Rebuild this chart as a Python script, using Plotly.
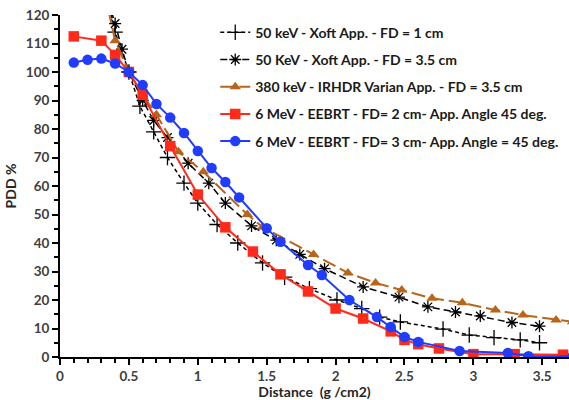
import plotly.graph_objects as go

# 50 keV - Xoft App. - FD = 1 cm
x_plus = [0.35, 0.4, 0.5, 0.58, 0.68, 0.78, 0.9, 1.0, 1.14, 1.29, 1.47, 1.63, 1.81, 2.01, 2.19, 2.32, 2.47, 2.78, 2.97, 3.15, 3.34, 3.48]
y_plus = [125, 114, 100, 88, 79, 70, 61, 54, 46.5, 40, 33, 28, 24, 20, 17, 14, 12.3, 9.8, 7.7, 6.8, 6, 5]

# 50 KeV - Xoft App. - FD = 3.5 cm
x_ast = [0.35, 0.4, 0.45, 0.5, 0.6, 0.68, 0.78, 0.93, 1.08, 1.2, 1.39, 1.57, 1.74, 1.92, 2.2, 2.46, 2.67, 2.87, 3.05, 3.28, 3.48]
y_ast = [125, 117, 108, 100, 90, 83, 77, 68, 61, 54, 46, 41, 36, 31, 24.6, 21, 17.6, 15.8, 14.4, 12.1, 10.8]

# 380 keV - IRHDR Varian App. - FD = 3.5 cm
x_ir = [0.35, 0.4, 0.5, 0.6, 0.7, 0.86, 1.04, 1.36, 1.47, 1.84, 2.09, 2.29, 2.48, 2.7, 2.92, 3.16, 3.36, 3.6, 3.72]
y_ir = [122, 111, 100, 92, 85, 72, 65, 50, 45.6, 36, 29.5, 26, 23.5, 20.6, 19, 16.5, 14.7, 13, 12.4]

# 6 MeV - EEBRT - FD= 2 cm
x_red = [0.1, 0.3, 0.4, 0.5, 0.6, 0.8, 1.0, 1.2, 1.4, 1.6, 1.8, 2.0, 2.2, 2.4, 2.5, 2.6, 2.75, 3.0, 3.3, 3.65]
y_red = [112.5, 111, 106, 100, 92, 74, 57, 45.5, 37, 29, 23, 17, 13.5, 9, 6, 4.5, 3, 1, 1, 0.8]

# 6 MeV - EEBRT - FD= 3 cm
x_blue = [0.1, 0.2, 0.3, 0.4, 0.5, 0.6, 0.7, 0.8, 0.9, 1.0, 1.1, 1.2, 1.3, 1.5, 1.6, 1.8, 1.9, 2.1, 2.3, 2.4, 2.5, 2.6, 2.9, 3.25, 3.4, 3.72]
y_blue = [103.3, 104.3, 104.7, 103, 100, 95.4, 88.8, 84, 78.6, 72.3, 66.3, 61.4, 56, 45.2, 40.4, 32.3, 28.8, 20, 14, 10.5, 7, 5.3, 2.1, 1.4, 0.3, 0.3]

names = [
    "50 keV - Xoft App. - FD = 1 cm",
    "50 KeV - Xoft App. - FD = 3.5 cm",
    "380 keV - IRHDR Varian App. - FD = 3.5 cm",
    "6 MeV - EEBRT - FD= 2 cm- App. Angle 45 deg.",
    "6 MeV - EEBRT - FD= 3 cm- App. Angle = 45 deg.",
]

RED = "#ff2a1a"
BLUE = "#1f3cff"
BROWN = "#b8651b"

fig = go.Figure()
fig.add_trace(go.Scatter(x=x_plus, y=y_plus, name=names[0], mode="lines+markers", legendgroup="a",
                         line=dict(color="black", width=1.5, dash="4px,3px"),
                         marker=dict(symbol="cross-thin", size=11, line=dict(color="black", width=1.3))))
fig.add_trace(go.Scatter(x=x_ast, y=y_ast, name=names[1], mode="lines+markers", legendgroup="b",
                         line=dict(color="black", width=1.5, dash="7px,4px"),
                         marker=dict(symbol="asterisk", size=10, line=dict(color="black", width=1.3))))
fig.add_trace(go.Scatter(x=x_ir, y=y_ir, name=names[2], mode="lines+markers", legendgroup="c",
                         line=dict(color=BROWN, width=2, dash="14px,5px"),
                         marker=dict(symbol="triangle-up", size=10, color=BROWN)))
fig.add_trace(go.Scatter(x=x_red, y=y_red, name=names[3], mode="lines+markers", legendgroup="d",
                         line=dict(color=RED, width=2),
                         marker=dict(symbol="square", size=10.5, color=RED)))
fig.add_trace(go.Scatter(x=x_blue, y=y_blue, name=names[4], mode="lines+markers", legendgroup="e",
                         line=dict(color=BLUE, width=2),
                         marker=dict(symbol="circle", size=10.5, color=BLUE)))

FONT = "Lato"
fig.update_layout(
    width=569, height=400,
    margin=dict(l=60, r=0, t=15, b=43),
    paper_bgcolor="white", plot_bgcolor="white",
    font=dict(family=FONT, size=12, color="#404040"),
    showlegend=True,
    legend=dict(x=0.305, y=0.995, xanchor="left", yanchor="top",
                bgcolor="rgba(0,0,0,0)", tracegroupgap=6, itemwidth=30,
                font=dict(family=FONT, size=14, color="#1a1a1a", weight="bold")),
    xaxis=dict(range=[0, 3.694], tickvals=[0, 0.5, 1, 1.5, 2, 2.5, 3, 3.5],
               ticktext=["0", "0.5", "1", "1.5", "2", "2.5", "3", "3.5"],
               showgrid=False, zeroline=False, showline=True, linecolor="black", linewidth=2,
               ticks="outside", ticklen=6, tickwidth=2, tickcolor="black",
               minor=dict(dtick=0.1, ticks="outside", ticklen=4, tickwidth=1.5, tickcolor="black"),
               tickfont=dict(family=FONT, size=13.5, weight="bold", color="#404040"),
               title=dict(text="Distance  (g /cm2)", standoff=4,
                          font=dict(family=FONT, size=14, weight="bold", color="#262626"))),
    yaxis=dict(range=[0, 120], dtick=10, showgrid=False, zeroline=False,
               showline=True, linecolor="black", linewidth=2,
               ticks="outside", ticklen=6, tickwidth=2, tickcolor="black",
               minor=dict(dtick=5, ticks="outside", ticklen=4, tickwidth=1.5, tickcolor="black"),
               tickfont=dict(family=FONT, size=13.5, weight="bold", color="#404040"),
               title=dict(text="PDD %", standoff=6,
                          font=dict(family=FONT, size=14, weight="bold", color="#262626"))),
)

fig.write_html("out.html")
